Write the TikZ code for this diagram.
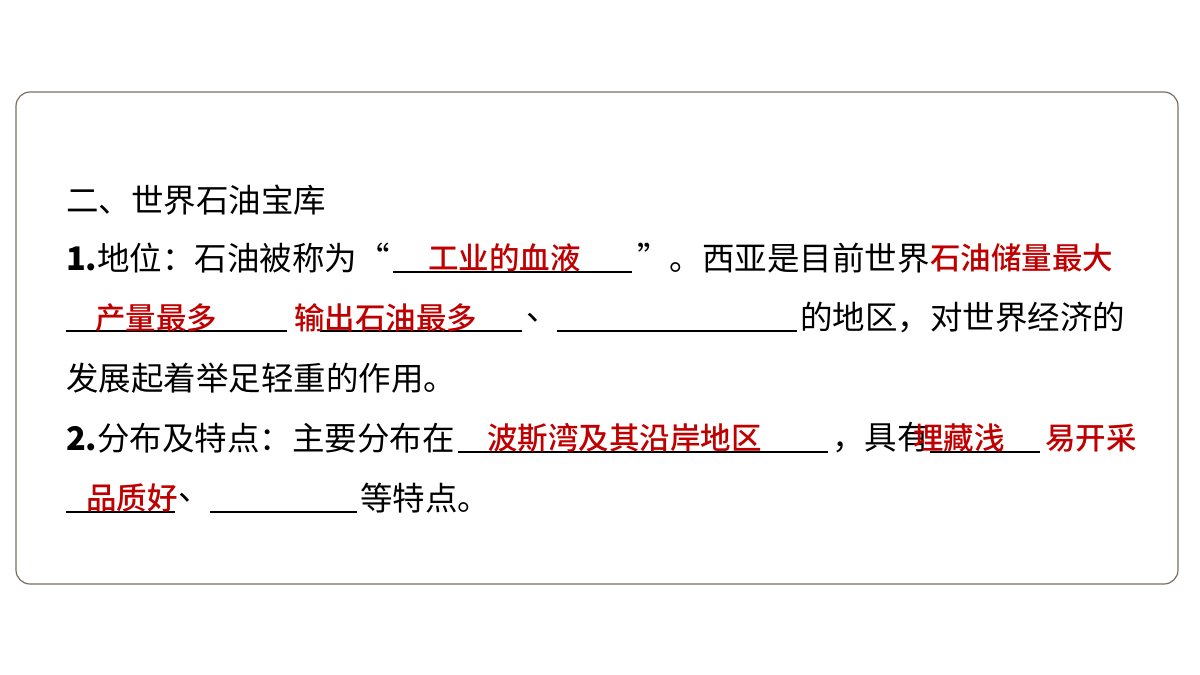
\documentclass[tikz,border=0pt]{standalone}
\usepackage{fontspec}
\newfontfamily\cjk{Noto Sans CJK SC}
\newfontfamily\cjkm{Noto Sans CJK SC Medium}
\begin{document}
\begin{tikzpicture}[x=1pt,y=-1pt,
 t/.style={anchor=west,inner sep=0pt,font=\cjk\fontsize{32.5}{32}\selectfont},
 r/.style={t,text={rgb,255:red,192;green,0;blue,0},font=\cjkm\fontsize{30.5}{30}\selectfont},
 ul/.style={line width=1.6pt}]
\useasboundingbox (0,0) rectangle (1200,675);
\draw[line width=1.2pt,draw={rgb,255:red,120;green,110;blue,100},rounded corners=14pt] (16,92) rectangle (1178,584);
\node[t] (l1) at (66,200) {二、世界石油宝库};
\node[t] (l2a) at (66,258) {\textbf{1.}地位：石油被称为“};
\draw[ul] (393,272) -- (632,272);
\node[r] (a1) at (428,258) {工业的血液};
\node[t] (l2b) at (637,258) {”。西亚是目前世界};
\node[r] (a2) at (930,258) {石油储量最大};
\draw[ul] (66,331) -- (287,331);
\node[r] (a3) at (95,318) {产量最多};
\draw[ul] (320,331) -- (522,331);
\node[r] (a4) at (294,318) {输出石油最多};
\node[t] (c1) at (526,318) {、};
\draw[ul] (557,331) -- (797,331);
\node[t] (l3) at (800,318) {的地区，对世界经济的};
\node[t] (l4) at (66,378) {发展起着举足轻重的作用。};
\node[t] (l5a) at (66,438) {\textbf{2.}分布及特点：主要分布在};
\draw[ul] (458,452) -- (828,452);
\node[r] (a5) at (487,438) {波斯湾及其沿岸地区};
\node[t] (l5b) at (832,438) {，具有};
\draw[ul] (930,452) -- (1040,452);
\node[r] (a6) at (913,438) {埋藏浅};
\node[r] (a7) at (1045,438) {易开采};
\draw[ul] (66,512) -- (175,512);
\node[r] (a8) at (86,498) {品质好};
\node[t] (c2) at (178,498) {、};
\draw[ul] (210,512) -- (357,512);
\node[t] (l6) at (360,498) {等特点。};
\end{tikzpicture}
\end{document}
